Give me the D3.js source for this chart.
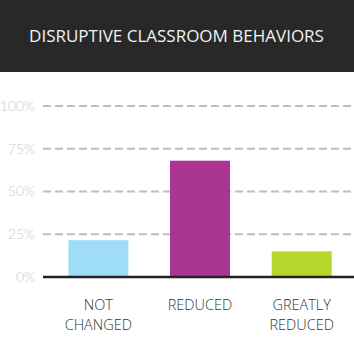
<!DOCTYPE html>
<html><head><meta charset="utf-8">
<script src="https://cdn.jsdelivr.net/npm/d3@7"></script>
<style>
html,body{margin:0;padding:0;background:#fff;}
</style></head>
<body>
<svg id="chart" width="354" height="347"></svg>
<script>
const title = "DISRUPTIVE CLASSROOM BEHAVIORS";
const categories = [["NOT","CHANGED"],["REDUCED"],["GREATLY","REDUCED"]];
const values = [21.5, 68, 15];
const colors = ["#9edcf7","#aa3592","#b5d62b"];
const ticks = [0,25,50,75,100];

const svg = d3.select("#chart");
const W = 354, H = 347;
svg.append("rect").attr("x",0).attr("y",0).attr("width",W).attr("height",72).attr("fill","#282828");
svg.append("text").attr("x",W/2-0.5).attr("y",41.5).attr("text-anchor","middle")
  .attr("fill","#f2f2f2").attr("font-family","Open Sans").attr("font-size",17).text(title);

const y = d3.scaleLinear().domain([0,100]).range([277,106]);
const x = d3.scaleBand().domain(d3.range(categories.length)).range([48,352]).paddingInner(0.41).paddingOuter(0.2);

const gridG = svg.append("g");
ticks.filter(t=>t>0).forEach(t=>{
  gridG.append("line").attr("x1",43).attr("x2",W).attr("y1",y(t)).attr("y2",y(t))
    .attr("stroke","#bdbdbd").attr("stroke-width",2).attr("stroke-dasharray","8,4");
});
const axis = d3.axisLeft(y).tickValues(ticks).tickSize(0).tickPadding(0).tickFormat(d=>d+"%");
const ag = svg.append("g").attr("transform","translate(35,0)").call(axis);
ag.select(".domain").remove();
ag.selectAll("text").attr("fill","#cccccc").attr("font-family","Lato").attr("font-weight",300).attr("font-size",14);

svg.append("g").selectAll("rect").data(values).join("rect")
  .attr("x",(d,i)=>x(i)).attr("width",x.bandwidth())
  .attr("y",d=>y(d)).attr("height",d=>y(0)-y(d)).attr("fill",(d,i)=>colors[i]);

svg.append("line").attr("x1",43).attr("x2",W).attr("y1",y(0)).attr("y2",y(0)).attr("stroke","#222").attr("stroke-width",2.5);

const lg = svg.append("g");
categories.forEach((lines,i)=>{
  const t = lg.append("text").attr("text-anchor","middle").attr("fill","#333")
    .attr("font-family","Open Sans").attr("font-weight",300).attr("font-size",14.5);
  lines.forEach((l,j)=>t.append("tspan").attr("x",x(i)+x.bandwidth()/2).attr("y",310+j*20).text(l));
});
</script>
</body></html>
